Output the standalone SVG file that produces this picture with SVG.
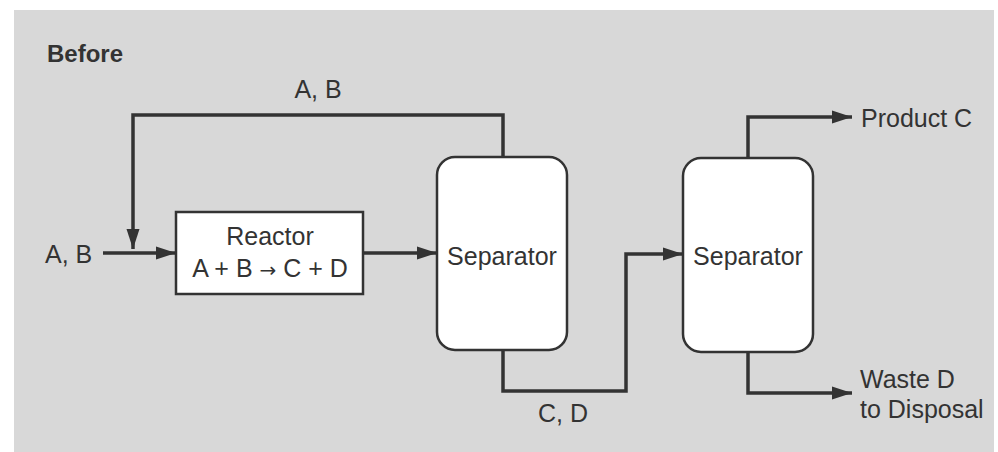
<svg xmlns="http://www.w3.org/2000/svg" width="998" height="452" viewBox="0 0 998 452">
<style>
text{font-family:"Liberation Sans",Arial,sans-serif;font-size:25px;fill:#333}
.b{font-weight:bold;font-size:24px}
.arw{font-family:"DejaVu Sans",sans-serif;font-size:20px}
.pipe{fill:none;stroke:#333;stroke-width:3.5}
.box{fill:#fff;stroke:#333;stroke-width:2.5}
</style>
<defs>
<marker id="ar" markerUnits="userSpaceOnUse" markerWidth="22" markerHeight="16" refX="20" refY="8" orient="auto">
<path d="M0,1.5 L20,8 L0,14.5 Z" fill="#333"/>
</marker>
</defs>
<rect x="0" y="0" width="998" height="452" fill="#fff"/>
<rect x="14" y="10" width="980" height="442" fill="#d8d8d8"/>
<text class="b" x="47" y="62">Before</text>
<g id="connectors">
<path class="pipe" d="M503,157 V115 H133 V249" marker-end="url(#ar)"/>
<path class="pipe" d="M103,253 H176" marker-end="url(#ar)"/>
<path class="pipe" d="M363,253 H437" marker-end="url(#ar)"/>
<path class="pipe" d="M503,350 V391 H626 V254 H683" marker-end="url(#ar)"/>
<path class="pipe" d="M748,158 V117 H852" marker-end="url(#ar)"/>
<path class="pipe" d="M748,352 V393 H852" marker-end="url(#ar)"/>
</g>
<text x="318" y="98" text-anchor="middle">A, B</text>
<text x="45" y="263">A, B</text>
<text x="563" y="422" text-anchor="middle">C, D</text>
<g id="reactor">
<rect class="box" x="176" y="212" width="187" height="82"/>
<text x="270" y="245" text-anchor="middle">Reactor</text>
<text x="270" y="277" text-anchor="middle">A + B <tspan class="arw">→</tspan> C + D</text>
</g>
<g id="separator1">
<rect class="box" x="437" y="157" width="130" height="193" rx="18"/>
<text x="502" y="265" text-anchor="middle">Separator</text>
</g>
<g id="separator2">
<rect class="box" x="683" y="158" width="130" height="194" rx="18"/>
<text x="748" y="265" text-anchor="middle">Separator</text>
</g>
<g id="product">
<text x="861" y="127">Product C</text>
</g>
<g id="waste">
<text x="860" y="388">Waste D</text>
<text x="860" y="418">to Disposal</text>
</g>
</svg>
